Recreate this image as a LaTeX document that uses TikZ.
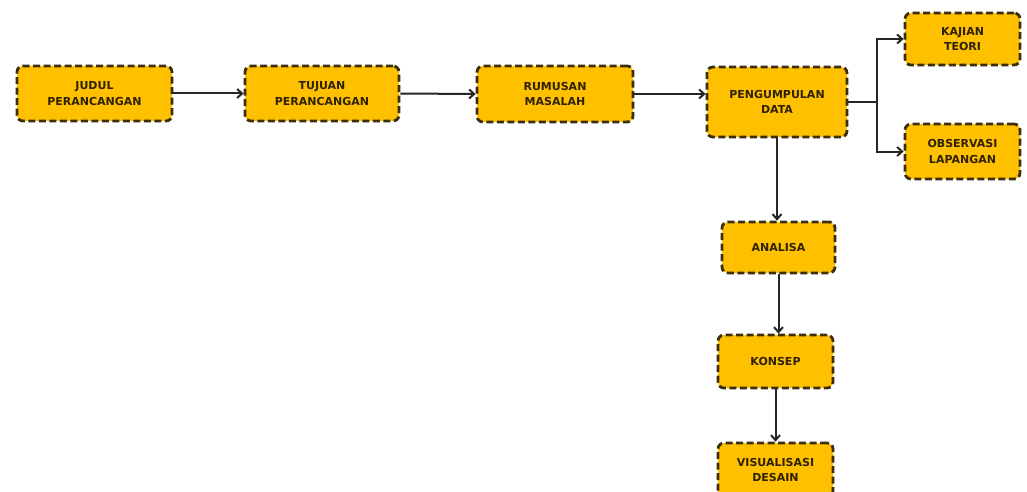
\documentclass[tikz,border=0pt]{standalone}
\usepackage{fontspec}
\setmainfont{DejaVu Sans}
\usetikzlibrary{arrows.meta}
\definecolor{boxfill}{HTML}{FFC000}
\definecolor{boxline}{HTML}{3A2F0A}
\definecolor{txt}{HTML}{2E2200}
\definecolor{conn}{HTML}{262626}
\tikzset{
  flowbox/.style={draw=boxline, fill=boxfill, line width=2.8pt, dash pattern=on 7pt off 3.5pt,
    rounded corners=6pt, align=center, text=txt, inner sep=2pt,
    font=\fontsize{11}{15.5}\selectfont\bfseries},
  conarrow/.style={draw=conn, line width=2pt, -{Straight Barb[length=5pt,width=9pt,line width=2pt]}},
  conline/.style={draw=conn, line width=2pt}
}
\begin{document}
\begin{tikzpicture}[x=1pt,y=-1pt]
\useasboundingbox (0,0) rectangle (1027,492);
\clip (0,0) rectangle (1027,492);
\fill[white] (0,0) rectangle (1027,492);
\node[flowbox, minimum width=155pt, minimum height=55pt] (judul) at (94.5,93.5) {JUDUL\\PERANCANGAN};
\node[flowbox, minimum width=154pt, minimum height=55pt] (tujuan) at (322,93.5) {TUJUAN\\PERANCANGAN};
\node[flowbox, minimum width=156pt, minimum height=56pt] (rumusan) at (555,94) {RUMUSAN\\MASALAH};
\node[flowbox, minimum width=140pt, minimum height=70pt] (data) at (777,102) {PENGUMPULAN\\DATA};
\node[flowbox, minimum width=115pt, minimum height=52pt] (kajian) at (962.5,39) {KAJIAN\\TEORI};
\node[flowbox, minimum width=115pt, minimum height=55pt] (obs) at (962.5,151.5) {OBSERVASI\\LAPANGAN};
\node[flowbox, minimum width=113pt, minimum height=51pt] (analisa) at (778.5,247.5) {ANALISA};
\node[flowbox, minimum width=115pt, minimum height=53pt] (konsep) at (775.5,361.5) {KONSEP};
\node[flowbox, minimum width=115pt, minimum height=54pt] (vis) at (775.5,470) {VISUALISASI\\DESAIN};
\coordinate (branch) at (877,102);
\draw[conarrow] (judul.east) -- (tujuan.west);
\draw[conarrow] (tujuan.east) -- (rumusan.west);
\draw[conarrow] (rumusan.east) -- (rumusan.east -| data.west);
\draw[conline] (data.east) -- (branch);
\draw[conarrow] (branch) |- (kajian.west);
\draw[conarrow] (branch) |- (obs.west);
\draw[conarrow] (data.south) -- (data.south |- analisa.north);
\draw[conarrow] (analisa.south) -- (analisa.south |- konsep.north);
\draw[conarrow] (konsep.south) -- (konsep.south |- vis.north);
\end{tikzpicture}
\end{document}
